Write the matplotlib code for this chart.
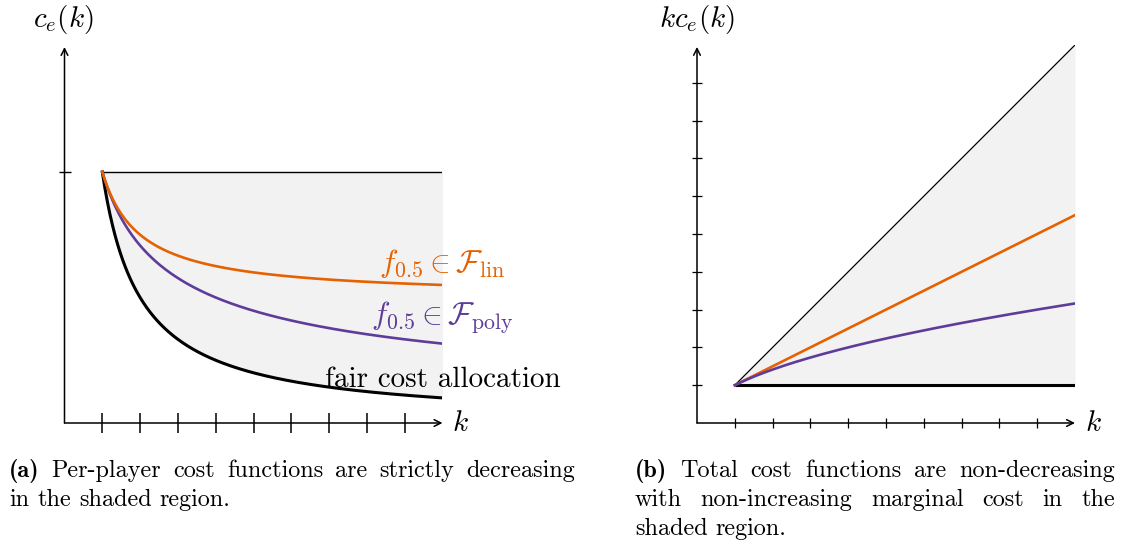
import numpy as np
import matplotlib
matplotlib.use("Agg")
import matplotlib.pyplot as plt

plt.rcParams['mathtext.fontset'] = 'cm'
plt.rcParams['font.family'] = 'cmr10'
plt.rcParams['axes.formatter.use_mathtext'] = True

# ---- data ----
k_max = 10
k_ticks = [1, 2, 3, 4, 5, 6, 7, 8, 9]
right_yticks = [1, 2, 3, 4, 5, 6, 7, 8, 9]
alpha = 0.5                       # f_{0.5}
k = np.linspace(1, k_max, 400)
fair = 1.0 / k                    # fair cost allocation
f_lin = alpha + (1 - alpha) / k   # f_0.5 in F_lin
f_poly = k ** (-alpha)            # f_0.5 in F_poly
upper = np.ones_like(k)

ORANGE = '#e66101'
PURPLE = '#5e3c99'
SHADE = '#f2f2f2'

W, H = 1133, 545
fig = plt.figure(figsize=(W / 100, H / 100), dpi=100)

def fx(px):
    return px / W

def fy(py):
    return 1 - py / H

ux = 37.8
uyl = 251.0
axL = fig.add_axes([fx(64.5), fy(423), 10 * ux / W, 1.5 * uyl / H])
axL.set_xlim(0, 10)
axL.set_ylim(0, 1.5)

axR = fig.add_axes([fx(697), fy(423), 10 * ux / W, 10 * ux / H])
axR.set_xlim(0, 10)
axR.set_ylim(0, 10)

for ax in (axL, axR):
    for s in ax.spines.values():
        s.set_visible(False)
    ax.patch.set_alpha(0)
    ax.set_xticklabels([])
    ax.set_yticklabels([])

LAB_FS = 21

# ---- left ----
axL.fill_between(k, fair, upper, color=SHADE, lw=0, zorder=1)
axL.plot(k, upper, color='black', lw=1.0, zorder=2, solid_capstyle='butt')
axL.plot(k, fair, color='black', lw=2.2, zorder=3)
axL.plot(k, f_poly, color=PURPLE, lw=1.9, zorder=3)
axL.plot(k, f_lin, color=ORANGE, lw=1.9, zorder=3)
axL.annotate('', xy=(10, 0), xytext=(0, 0),
             arrowprops=dict(arrowstyle='->', lw=1.1, color='black',
                             shrinkA=0, shrinkB=0, mutation_scale=12),
             annotation_clip=False)
axL.annotate('', xy=(0, 1.498), xytext=(0, 0),
             arrowprops=dict(arrowstyle='->', lw=1.1, color='black',
                             shrinkA=0, shrinkB=0, mutation_scale=12),
             annotation_clip=False)
axL.set_xticks(k_ticks)
axL.set_yticks([1])
axL.tick_params(axis='x', direction='inout', length=15, width=1.1, color='black')
axL.tick_params(axis='y', direction='inout', length=8, width=1.0, color='black')

axL.text(10, 0.602, r'$f_{0.5} \in \mathcal{F}_{\mathrm{lin}}$', color=ORANGE,
         ha='center', va='baseline', fontsize=22.5)
axL.text(10, 0.39, r'$f_{0.5} \in \mathcal{F}_{\mathrm{poly}}$', color=PURPLE,
         ha='center', va='baseline', fontsize=22.5)
axL.text(10, 0.145, 'fair cost allocation', color='black',
         ha='center', va='baseline', fontsize=21, zorder=4)

fig.text(fx(63), fy(20), r'$c_e(k)$', ha='center', va='center', fontsize=LAB_FS)
fig.text(fx(460), fy(424), r'$k$', ha='center', va='center', fontsize=LAB_FS)

# ---- right ----
tot_upper = k * upper
tot_fair = k * fair
tot_lin = k * f_lin
tot_poly = k * f_poly
axR.fill_between(k, tot_fair, tot_upper, color=SHADE, lw=0, zorder=1)
axR.plot(k, tot_upper, color='black', lw=0.9, zorder=2)
axR.plot(k, tot_fair, color='black', lw=2.2, zorder=3, solid_capstyle='butt')
axR.plot(k, tot_lin, color=ORANGE, lw=1.9, zorder=3)
axR.plot(k, tot_poly, color=PURPLE, lw=1.9, zorder=3)
axR.annotate('', xy=(10, 0), xytext=(0, 0),
             arrowprops=dict(arrowstyle='->', lw=1.1, color='black',
                             shrinkA=0, shrinkB=0, mutation_scale=12),
             annotation_clip=False)
axR.annotate('', xy=(0, 9.95), xytext=(0, 0),
             arrowprops=dict(arrowstyle='->', lw=1.1, color='black',
                             shrinkA=0, shrinkB=0, mutation_scale=12),
             annotation_clip=False)
axR.set_xticks(k_ticks)
axR.set_yticks(right_yticks)
axR.tick_params(axis='both', direction='inout', length=7, width=0.9, color='black')

fig.text(fx(697), fy(20), r'$kc_e(k)$', ha='center', va='center', fontsize=LAB_FS)
fig.text(fx(1093), fy(424), r'$k$', ha='center', va='center', fontsize=LAB_FS)

# ---- captions (justified) ----
CAP_FS = 17.4
renderer = fig.canvas.get_renderer()

def word_width(word, bold=False):
    t = fig.text(0, 0, word, fontsize=CAP_FS, family='cmb10' if bold else 'cmr10')
    w = t.get_window_extent(renderer=renderer).width
    t.remove()
    return w

def cap_line(words, x0, x1, py, justify=True, bold_first=False):
    ws = [word_width(w, bold=(bold_first and i == 0)) for i, w in enumerate(words)]
    space = word_width('a b') - word_width('ab')
    if justify and len(words) > 1:
        gap = (x1 - x0 - sum(ws)) / (len(words) - 1)
    else:
        gap = space
    x = x0
    for i, (w, wd) in enumerate(zip(words, ws)):
        fig.text(fx(x), fy(py), w, fontsize=CAP_FS, va='baseline', ha='left',
                 family='cmb10' if (bold_first and i == 0) else 'cmr10')
        x += wd + gap

cap_a1 = ['(a)', 'Per-player', 'cost', 'functions', 'are', 'strictly', 'decreasing']
cap_a2 = ['in', 'the', 'shaded', 'region.']
cap_b1 = ['(b)', 'Total', 'cost', 'functions', 'are', 'non-decreasing']
cap_b2 = ['with', 'non-increasing', 'marginal', 'cost', 'in', 'the']
cap_b3 = ['shaded', 'region.']

cap_line(cap_a1, 9, 575, 477, justify=True, bold_first=True)
cap_line(cap_a2, 9, 575, 506, justify=False)
cap_line(cap_b1, 635, 1115, 477, justify=True, bold_first=True)
cap_line(cap_b2, 635, 1115, 506, justify=True)
cap_line(cap_b3, 635, 1115, 535, justify=False)

fig.savefig('out.png', dpi=100)
